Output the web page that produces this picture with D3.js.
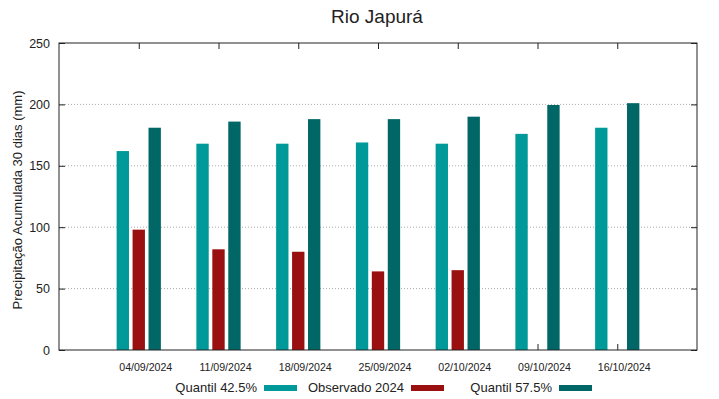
<!DOCTYPE html>
<html>
<head>
<meta charset="utf-8">
<script src="https://cdn.jsdelivr.net/npm/d3@7"></script>
<style>
  body { margin: 0; background: #fff; }
  text { font-family: "Liberation Sans", Arial, sans-serif; fill: #222; }
</style>
</head>
<body>
<svg width="719" height="399"></svg>
<script>
// dados
var datas = ["04/09/2024", "11/09/2024", "18/09/2024", "25/09/2024", "02/10/2024", "09/10/2024", "16/10/2024"];
var quantil425 = [162, 168, 168, 169, 168, 176, 181];
var observado = [98, 82, 80, 64, 65, null, null];
var quantil575 = [181, 186, 188, 188, 190, 199.5, 201];
var yTicks = [0, 50, 100, 150, 200, 250];

var series = [
    {nome: "Quantil 42.5%", valores: quantil425, cor: "#009999", desloc: -0.2},
    {nome: "Observado 2024", valores: observado, cor: "#9a0f0f", desloc: 0},
    {nome: "Quantil 57.5%", valores: quantil575, cor: "#006666", desloc: 0.2}
];

var svg = d3.select("svg"),
    margin = {left: 59, right: 22, top: 43, bottom: 49},
    width = +svg.attr("width"),
    height = +svg.attr("height"),
    x0 = margin.left, x1 = width - margin.right,
    y0 = height - margin.bottom, y1 = margin.top;

// eixo x continuo: categorias em 0..6, com uma casa de folga de cada lado
var x = d3.scaleLinear().domain([-1, datas.length]).range([x0, x1]);
var y = d3.scaleLinear().domain([0, 250]).range([y0, y1]);
var larguraBarra = 0.155;

// grade pontilhada
svg.append("g")
    .selectAll("line")
    .data(yTicks.slice(1, -1))
    .enter()
    .append("line")
    .attr("x1", x0).attr("x2", x1)
    .attr("y1", function (d) {return y(d);})
    .attr("y2", function (d) {return y(d);})
    .attr("stroke", "#aaa")
    .attr("stroke-width", 1)
    .attr("stroke-dasharray", "1,2");

// eixos (ticks para dentro, estilo gnuplot) - desenhados antes das barras
var idx = d3.range(datas.length);
svg.append("g")
    .attr("transform", "translate(0," + y0 + ")")
    .call(d3.axisBottom(x).tickValues(idx).tickSize(-6).tickPadding(13)
        .tickFormat(function (d) {return datas[d];}))
    .call(function (g) {g.select(".domain").remove();})
    .selectAll("text").attr("dx", 6.5).style("font-size", "10.6px");
svg.append("g")
    .attr("transform", "translate(0," + y1 + ")")
    .call(d3.axisTop(x).tickValues(idx).tickSize(-6).tickFormat(""))
    .call(function (g) {g.select(".domain").remove();});
svg.append("g")
    .attr("transform", "translate(" + x0 + ",0)")
    .call(d3.axisLeft(y).tickValues(yTicks).tickSize(-6).tickPadding(9))
    .call(function (g) {g.select(".domain").remove();})
    .selectAll("text").style("font-size", "12.5px");
svg.append("g")
    .attr("transform", "translate(" + x1 + ",0)")
    .call(d3.axisRight(y).tickValues(yTicks).tickSize(-6).tickFormat(""))
    .call(function (g) {g.select(".domain").remove();});
svg.selectAll(".tick line").attr("stroke", "#222");

// barras
series.forEach(function (s) {
    svg.append("g")
        .selectAll("rect")
        .data(s.valores.map(function (v, i) {return {i: i, v: v};}).filter(function (d) {return d.v != null;}))
        .enter()
        .append("rect")
        .attr("x", function (d) {return x(d.i + s.desloc - larguraBarra / 2);})
        .attr("width", x(larguraBarra) - x(0))
        .attr("y", function (d) {return y(d.v);})
        .attr("height", function (d) {return y(0) - y(d.v);})
        .attr("fill", s.cor);
});

// moldura
svg.append("rect")
    .attr("x", x0).attr("y", y1)
    .attr("width", x1 - x0).attr("height", y0 - y1)
    .attr("fill", "none")
    .attr("stroke", "#222")
    .attr("stroke-width", 1);

// titulo
svg.append("text")
    .attr("x", 377).attr("y", 23)
    .attr("text-anchor", "middle")
    .style("font-size", "19px")
    .text("Rio Japurá");

// rotulo do eixo y
svg.append("text")
    .attr("transform", "translate(22,200) rotate(-90)")
    .attr("text-anchor", "middle")
    .style("font-size", "13px")
    .text("Precipitação Acumulada 30 dias (mm)");

// legenda
var legX = [257, 404, 552];
var leg = svg.append("g")
    .selectAll("g")
    .data(series)
    .enter()
    .append("g")
    .attr("transform", function (d, i) {return "translate(" + legX[i] + ",392)";});
leg.append("text")
    .attr("text-anchor", "end")
    .style("font-size", "13px")
    .text(function (d) {return d.nome;});
leg.append("rect")
    .attr("x", 7).attr("y", -7)
    .attr("width", 33).attr("height", 6)
    .attr("fill", function (d) {return d.cor;});
</script>
</body>
</html>
